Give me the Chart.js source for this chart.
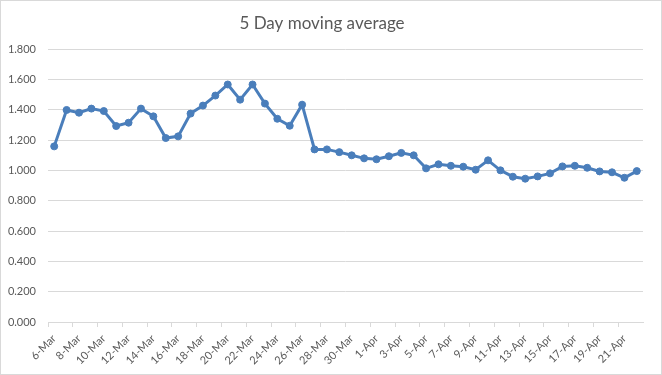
<!DOCTYPE html>
<html><head><meta charset="utf-8">
<script src="https://cdn.jsdelivr.net/npm/chart.js@4"></script>
<style>
html,body{margin:0;padding:0;background:#fff;}
#wrap{width:662px;height:375px;box-sizing:border-box;border:1px solid #d9d9d9;position:relative;}
canvas{display:block;}
</style></head>
<body>
<div id="wrap"><canvas id="c" width="660" height="373"></canvas></div>
<script>
const categories = ["6-Mar","7-Mar","8-Mar","9-Mar","10-Mar","11-Mar","12-Mar","13-Mar","14-Mar","15-Mar","16-Mar","17-Mar","18-Mar","19-Mar","20-Mar","21-Mar","22-Mar","23-Mar","24-Mar","25-Mar","26-Mar","27-Mar","28-Mar","29-Mar","30-Mar","31-Mar","1-Apr","2-Apr","3-Apr","4-Apr","5-Apr","6-Apr","7-Apr","8-Apr","9-Apr","10-Apr","11-Apr","12-Apr","13-Apr","14-Apr","15-Apr","16-Apr","17-Apr","18-Apr","19-Apr","20-Apr","21-Apr","22-Apr"];
const movingAverage = [1.158,1.398,1.380,1.407,1.391,1.292,1.314,1.407,1.356,1.213,1.224,1.374,1.427,1.493,1.566,1.466,1.566,1.440,1.340,1.294,1.433,1.138,1.138,1.120,1.099,1.079,1.073,1.093,1.115,1.099,1.013,1.040,1.030,1.024,1.004,1.066,1.000,0.958,0.945,0.960,0.980,1.026,1.030,1.017,0.993,0.987,0.951,0.995];
const yTicks = [0,0.2,0.4,0.6,0.8,1.0,1.2,1.4,1.6,1.8];

const FONT = "Lato, 'Open Sans', sans-serif";
const TXT = '#595959';
const GRID = '#d9d9d9';
const BLUE = '#4a7ebb';

new Chart(document.getElementById('c'), {
  type: 'line',
  data: {
    labels: categories,
    datasets: [{
      data: movingAverage,
      borderColor: BLUE,
      backgroundColor: BLUE,
      borderWidth: 3,
      pointRadius: 3.5,
      pointBackgroundColor: BLUE,
      pointBorderColor: BLUE,
      pointBorderWidth: 1,
      tension: 0,
      fill: false
    }]
  },
  options: {
    responsive: false,
    animation: false,
    events: [],
    layout: { padding: { left: 0, right: 18, top: 0, bottom: 0 } },
    plugins: {
      legend: { display: false },
      tooltip: { enabled: false },
      title: {
        display: true,
        text: '5 Day moving average',
        color: TXT,
        font: { family: FONT, size: 17, weight: 'normal' },
        padding: { top: 12, bottom: 15.6 }
      }
    },
    scales: {
      x: {
        offset: true,
        grid: {
          offset: true,
          drawOnChartArea: false,
          drawTicks: true,
          tickLength: 5,
          color: ctx => (ctx.index % 2 === 0 ? GRID : 'rgba(0,0,0,0)'),
          lineWidth: 1
        },
        border: { display: true, color: GRID, width: 1 },
        ticks: {
          autoSkip: false,
          minRotation: 45,
          maxRotation: 45,
          padding: 5,
          color: TXT,
          font: { family: FONT, size: 11 },
          callback: function(v, i) { return i % 2 === 0 ? categories[i] : ''; }
        },
        afterFit: s => { s.height = 52; }
      },
      y: {
        min: 0,
        max: 1.8,
        afterBuildTicks: s => { s.ticks = yTicks.map(v => ({ value: v })); },
        grid: { drawTicks: false, color: GRID, lineWidth: 1 },
        border: { display: false },
        ticks: {
          padding: 12,
          color: TXT,
          font: { family: FONT, size: 11 },
          callback: v => Number(v).toFixed(3)
        },
        afterFit: s => { s.width = 47; }
      }
    }
  }
});
</script>
</body></html>
